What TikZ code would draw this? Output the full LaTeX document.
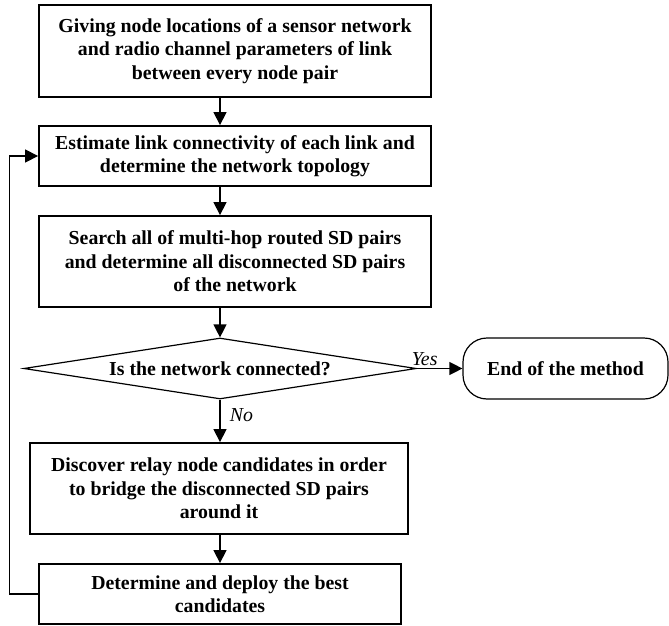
\documentclass[tikz,border=0pt]{standalone}
\usepackage{fontspec}
\setmainfont{Liberation Serif}
\usetikzlibrary{shapes.geometric,arrows.meta}

\tikzset{
  stepbox/.style={draw, line width=1.8pt, minimum width=392pt, align=center,
    inner sep=0pt, font=\fontsize{19.8}{23.5}\selectfont\bfseries},
  decision/.style={diamond, draw, line width=1.2pt, aspect=6.4, inner sep=0pt,
    minimum width=392.5pt, minimum height=61pt, font=\fontsize{19.8}{23.5}\selectfont\bfseries},
  terminal/.style={draw, line width=1.2pt, rounded corners=24pt, minimum width=205pt,
    minimum height=61pt, font=\fontsize{19.8}{23.5}\selectfont\bfseries},
  flow/.style={line width=1.3pt, -{Triangle[length=13pt,width=13pt]}},
  answer/.style={font=\fontsize{19.8}{23.5}\selectfont\itshape}
}

\begin{document}
\begin{tikzpicture}[x=1pt, y=-1pt]

    % Page frame
    \useasboundingbox (0,0) rectangle (669,626);

    % Steps
    \node[stepbox, minimum height=92pt] (give) at (235,51)
      {Giving node locations of a sensor network\\and radio channel parameters of link\\between every node pair};
    \node[stepbox, minimum height=60pt] (estimate) at (235,156)
      {Estimate link connectivity of each link and\\determine the network topology};
    \node[stepbox, minimum height=91pt] (search) at (235,261.5)
      {Search all of multi-hop routed SD pairs\\and determine all disconnected SD pairs\\of the network};
    \node[decision] (connected) at (220,368.5) {Is the network connected?};
    \node[terminal] (end) at (565.5,368.5) {End of the method};
    \node[stepbox, minimum width=378pt, minimum height=91pt] (discover) at (219,488.5)
      {Discover relay node candidates in order\\to bridge the disconnected SD pairs\\around it};
    \node[stepbox, minimum width=362pt, minimum height=60pt] (deploy) at (220,594)
      {Determine and deploy the best\\candidates};

    % Arrows
    \draw[flow] (give.south -| connected.north) -- (estimate.north -| connected.north);
    \draw[flow] (estimate.south -| connected.north) -- (search.north -| connected.north);
    \draw[flow] (search.south -| connected.north) -- (connected.north);
    \draw[flow] (connected.east) -- node[answer, above, pos=0.17, inner sep=2pt] (yes) {Yes} (end.west);
    \draw[flow] (connected.south) -- node[answer, right, pos=0.36, xshift=6pt] (no) {No}
      (discover.north -| connected.south);
    \draw[flow] (discover.south -| connected.south) -- (deploy.north -| connected.south);

    % Loop back
    \coordinate (back) at (9.5,594);
    \draw[flow] (deploy.west) -- (back) |- (estimate.west);

\end{tikzpicture}
\end{document}
